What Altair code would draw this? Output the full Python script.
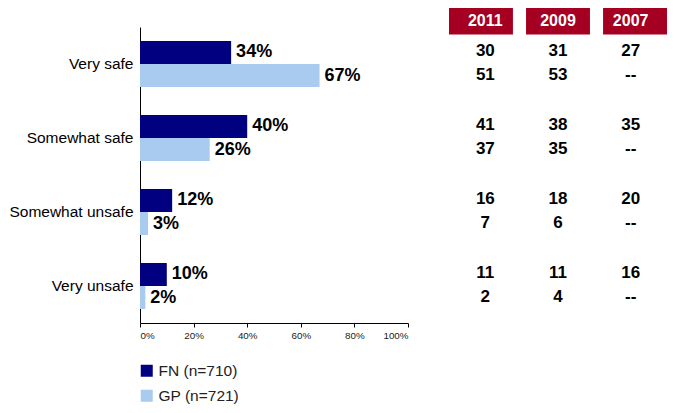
import altair as alt
import pandas as pd

categories = ["Very safe", "Somewhat safe", "Somewhat unsafe", "Very unsafe"]
series = ["FN (n=710)", "GP (n=721)"]
fn_pct = [34, 40, 12, 10]
gp_pct = [67, 26, 3, 2]

years = ["2011", "2009", "2007"]
fn_2011 = ["30", "41", "16", "11"]
gp_2011 = ["51", "37", "7", "2"]
fn_2009 = ["31", "38", "18", "11"]
gp_2009 = ["53", "35", "6", "4"]
fn_2007 = ["27", "35", "20", "16"]
gp_2007 = ["--", "--", "--", "--"]

NAVY = "#000080"
LIGHT = "#A9CBF0"
RED = "#A50021"
FONT = "Liberation Sans, Arial"

rows = []
for s, vals in zip(series, [fn_pct, gp_pct]):
    for c, v in zip(categories, vals):
        rows.append({"category": c, "series": s, "value": v, "label": f"{v}%"})
bar_df = pd.DataFrame(rows)

trows = []
table_cols = {
    "2011": [fn_2011, gp_2011],
    "2009": [fn_2009, gp_2009],
    "2007": [fn_2007, gp_2007],
}
for y in years:
    for s, vals in zip(series, table_cols[y]):
        for c, t in zip(categories, vals):
            trows.append({"category": c, "series": s, "year": y, "text": t})
table_df = pd.DataFrame(trows)

head_df = pd.DataFrame({"year": years, "row": ["hdr"] * len(years)})

x_bar_scale = alt.Scale(domain=[0, 100], range=[0, 268])
y_cat_scale = alt.Scale(domain=categories, range=[19, 315], paddingInner=0.378, paddingOuter=0.189)
off_scale = alt.Scale(domain=series, paddingInner=0, paddingOuter=0)
x_year_scale = alt.Scale(domain=years, range=[309, 527], paddingInner=0.17, paddingOuter=0)
y_head_scale = alt.Scale(domain=["hdr"], range=[0, 26.5], paddingInner=0, paddingOuter=0)

bars = alt.Chart(bar_df).mark_bar().encode(
    x=alt.X("value:Q", scale=x_bar_scale,
            axis=alt.Axis(title=None, values=[0, 20, 40, 60, 80, 100], labelExpr="datum.value + '%'",
                          grid=False, domainColor="#000", domainWidth=1, tickColor="#000", tickSize=4,
                          labelFontSize=9.8, labelColor="#222", labelFont=FONT, labelPadding=3)),
    y=alt.Y("category:N", scale=y_cat_scale, sort=categories,
            axis=alt.Axis(title=None, ticks=False, domainColor="#000", domainWidth=1,
                          labelFont=FONT, labelFontSize=15.5, labelColor="#000", labelPadding=7)),
    yOffset=alt.YOffset("series:N", scale=off_scale, sort=series),
    color=alt.Color("series:N", scale=alt.Scale(domain=series, range=[NAVY, LIGHT]),
                    legend=alt.Legend(title=None, orient="none", legendX=-1, legendY=355,
                                      symbolType="square", symbolSize=144, symbolStrokeWidth=0,
                                      labelFont=FONT, labelFontSize=15.5, labelColor="#222",
                                      labelOffset=4, rowPadding=8, padding=0)),
)

bar_labels = alt.Chart(bar_df).mark_text(align="left", baseline="middle", dx=5,
                                         font=FONT, fontWeight="bold", fontSize=18, color="#000").encode(
    x=alt.X("value:Q", scale=x_bar_scale, axis=None),
    y=alt.Y("category:N", scale=y_cat_scale, sort=categories, axis=None),
    yOffset=alt.YOffset("series:N", scale=off_scale, sort=series),
    text="label:N",
)

header_rect = alt.Chart(head_df).mark_rect(color=RED).encode(
    x=alt.X("year:N", scale=x_year_scale, sort=years, axis=None),
    y=alt.Y("row:N", scale=y_head_scale, axis=None),
)
header_text = alt.Chart(head_df).mark_text(color="white", font=FONT, fontWeight="bold", fontSize=16,
                                           baseline="middle").encode(
    x=alt.X("year:N", scale=x_year_scale, sort=years, axis=None),
    y=alt.Y("row:N", scale=y_head_scale, axis=None),
    text="year:N",
)

table_text = alt.Chart(table_df).mark_text(color="#000", font=FONT, fontWeight="bold", fontSize=17,
                                           baseline="middle", dy=-1).encode(
    x=alt.X("year:N", scale=x_year_scale, sort=years, axis=None),
    y=alt.Y("category:N", scale=y_cat_scale, sort=categories, axis=None),
    yOffset=alt.YOffset("series:N", scale=off_scale, sort=series),
    text="text:N",
)

chart = alt.layer(bars, bar_labels, header_rect, header_text, table_text).resolve_scale(
    x="independent", y="independent"
).properties(
    width=527, height=315,
    background="white",
    autosize=alt.AutoSizeParams(type="none"),
    padding={"left": 132, "top": 0, "right": 0, "bottom": 90},
).configure_view(strokeWidth=0, stroke=None)

chart.save("out.html", embed_options={"renderer": "svg", "actions": False})
